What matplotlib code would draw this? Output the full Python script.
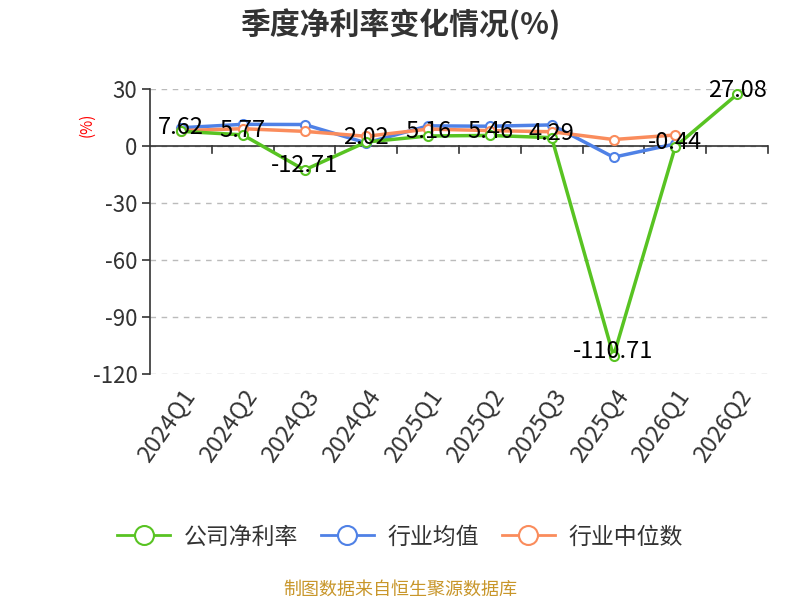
import numpy as np
import matplotlib.pyplot as plt

plt.rcParams['font.family'] = ['Noto Sans CJK SC', 'DejaVu Sans']

quarters = ["2024Q1", "2024Q2", "2024Q3", "2024Q4", "2025Q1", "2025Q2",
            "2025Q3", "2025Q4", "2026Q1", "2026Q2"]
company = [7.62, 5.77, -12.71, 2.02, 5.16, 5.46, 4.29, -110.71, -0.44, 27.08]
ind_mean = [9.5, 11.3, 11.2, 1.5, 10.5, 10.3, 11.0, -6.0, 1.0, np.nan]
ind_median = [8.0, 9.0, 7.6, 5.0, 8.8, 8.0, 7.4, 3.3, 5.7, np.nan]
yticks = [30, 0, -30, -60, -90, -120]

green = '#58c322'
blue = '#4f81e6'
orange = '#fa8c5c'

fig = plt.figure(figsize=(8, 6), dpi=100)
ax = fig.add_axes([0.1875, 0.377, 0.7725, 0.475])

x = np.arange(len(quarters))
mk = dict(marker='o', markersize=6.5, markerfacecolor='white', markeredgewidth=1.5, lw=2.5)
ax.plot(x, ind_mean, color=blue, markeredgecolor=blue, label='行业均值', zorder=3, **mk)
ax.plot(x, ind_median, color=orange, markeredgecolor=orange, label='行业中位数', zorder=3, **mk)
ax.plot(x, company, color=green, markeredgecolor=green, label='公司净利率', zorder=4, **mk)

for xi, v in zip(x, company):
    ax.annotate(f"{v}", (xi, v), xytext=(0, 3),
                textcoords='offset points', ha='center', va='center',
                fontsize=17, color='black', zorder=5)

ax.set_xlim(-0.5, len(quarters) - 0.5)
ax.set_ylim(-120, 30)
ax.set_yticks(yticks)
ax.set_yticklabels([str(t) for t in yticks], fontsize=16, color='#333333')
ax.yaxis.grid(True, linestyle=(0, (4, 4)), color='#bbbbbb', lw=1)
ax.set_axisbelow(True)
ax.tick_params(axis='y', length=6, width=1.2, color='#333333', pad=3)

for s in ['top', 'right', 'bottom']:
    ax.spines[s].set_visible(False)
ax.spines['left'].set_color('#333333')
ax.spines['left'].set_linewidth(1.2)
ax.axhline(0, color='#333333', lw=1.2, zorder=2)

ax.set_xticks(x)
ax.set_xticklabels(quarters, rotation=55, ha='right', rotation_mode='anchor',
                   fontsize=17, color='#333333')
ax.tick_params(axis='x', length=0, pad=8)
for b in np.arange(0.5, len(quarters), 1.0):
    ax.plot([b, b], [0, -4], color='#333333', lw=1.2, clip_on=False, zorder=2)

fig.text(0.109, 0.792, '(%)', color='red', rotation=90, fontsize=11, ha='center', va='center')
fig.text(0.5, 0.96, '季度净利率变化情况(%)', fontsize=21.5, fontweight='bold',
         color='#333333', ha='center', va='center')

handles, labels = ax.get_legend_handles_labels()
order = [2, 0, 1]
leg = fig.legend([handles[i] for i in order], [labels[i] for i in order],
                 loc='center', bbox_to_anchor=(0.5, 0.105), ncol=3, frameon=False,
                 fontsize=16.5, handlelength=2.3, columnspacing=1.0, handletextpad=0.6,
                 markerscale=2.1)
for t in leg.get_texts():
    t.set_color('#333333')
for h in leg.legend_handles:
    h.set_linewidth(2)

fig.text(0.5, 0.018, '制图数据来自恒生聚源数据库', fontsize=13, color='#c8962a',
         ha='center', va='center')

fig.savefig('out.png', dpi=100)
